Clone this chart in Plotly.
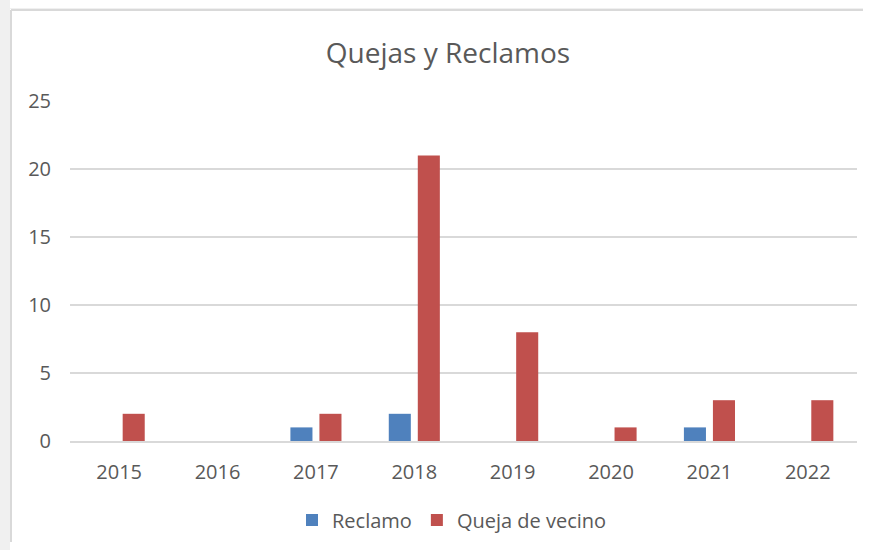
import plotly.graph_objects as go

years = ["2015", "2016", "2017", "2018", "2019", "2020", "2021", "2022"]
reclamo = [0, 0, 1, 2, 0, 0, 1, 0]
queja_vecino = [2, 0, 2, 21, 8, 1, 3, 3]

# page has an 8px body margin; coordinates below are figure pixels
OFF = 8
W, H = 863, 534
L, R, T, B = 70 - OFF, W - (857 - OFF), 101 - OFF, H - (441 - OFF)
pw, ph = W - L - R, H - T - B

def px_x(p):  # screenshot x -> paper x
    return (p - OFF - L) / pw

def px_y(p):  # screenshot y -> paper y
    return (H - B - (p - OFF)) / ph

FONT = "Open Sans, Segoe UI, sans-serif"
TXT = "#595959"
BG = "#f0f0f0"
EDGE = "#d9d9d9"

fig = go.Figure()
fig.add_trace(go.Bar(x=years, y=reclamo, name="Reclamo", marker=dict(color="#4f81bd", line=dict(width=0))))
fig.add_trace(go.Bar(x=years, y=queja_vecino, name="Queja de vecino", marker=dict(color="#c0504d", line=dict(width=0))))

fig.update_layout(
    width=W, height=H,
    margin=dict(l=L, r=R, t=T, b=B, autoexpand=False),
    paper_bgcolor="white",
    plot_bgcolor="rgba(0,0,0,0)",
    barmode="group",
    bargap=0.41,
    bargroupgap=0.24,
    font=dict(family=FONT, color=TXT, size=20),
    title=dict(text="Quejas y Reclamos", x=(448 - OFF) / W, xanchor="center",
               y=1 - (53 - OFF) / H, yanchor="middle", font=dict(size=28, color=TXT, family=FONT)),
    showlegend=True,
    legend=dict(orientation="h", x=px_x(452), xanchor="center", y=px_y(520), yanchor="middle",
                font=dict(size=20, color=TXT), bgcolor="rgba(0,0,0,0)", itemwidth=30,
                traceorder="normal"),
    shapes=[
        dict(type="rect", xref="paper", yref="paper", layer="below",
             x0=px_x(-20), x1=px_x(10), y0=px_y(620), y1=px_y(-20),
             fillcolor=BG, line=dict(width=0)),
        dict(type="rect", xref="paper", yref="paper", layer="below",
             x0=px_x(-20), x1=px_x(900), y0=px_y(9), y1=px_y(-20),
             fillcolor=BG, line=dict(width=0)),
        dict(type="line", xref="paper", yref="paper", layer="below",
             x0=px_x(11), x1=px_x(900), y0=px_y(10), y1=px_y(10),
             line=dict(color=EDGE, width=2)),
        dict(type="line", xref="paper", yref="paper", layer="below",
             x0=px_x(11), x1=px_x(11), y0=px_y(10), y1=px_y(620),
             line=dict(color=EDGE, width=2)),
    ],
)
fig.update_xaxes(showgrid=False, showline=True, linecolor=EDGE, linewidth=2,
                 ticks="", ticklabelstandoff=12, tickfont=dict(size=20, color=TXT))
fig.update_yaxes(range=[0, 25], dtick=5, showgrid=True, gridcolor=EDGE, gridwidth=2,
                 zeroline=False, showline=False, ticks="", ticklabelstandoff=18,
                 tickfont=dict(size=20, color=TXT))

# page background outside the figure (body margin) matches the Excel-like frame
PAGE_JS = (
    "document.body.style.background='linear-gradient(to right, #f0f0f0 0 10px, white 10px)';"
    "document.documentElement.style.overflow='hidden';"
)
fig.write_html("out.html", post_script=PAGE_JS)
